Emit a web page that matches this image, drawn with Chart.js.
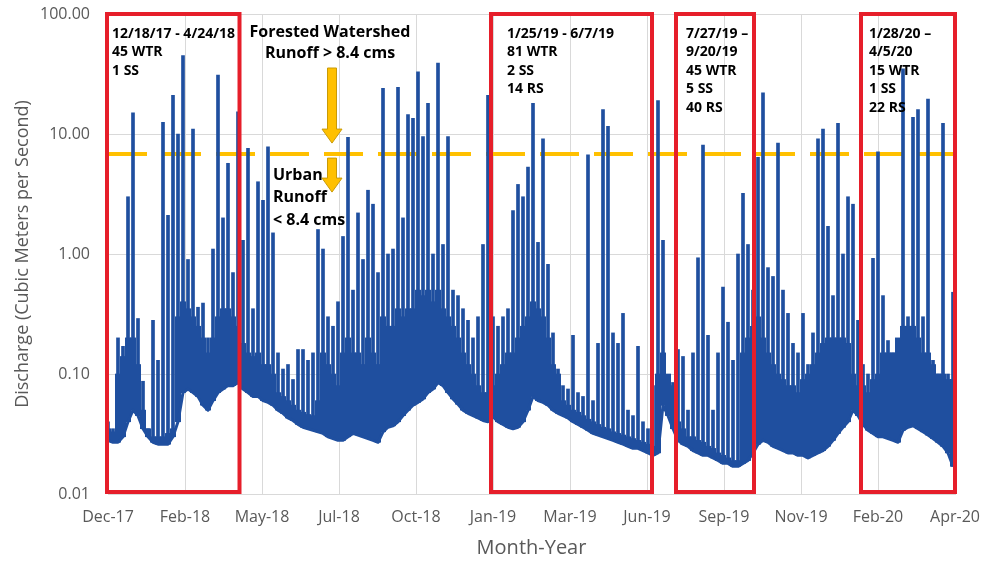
<!DOCTYPE html>
<html>
<head>
<meta charset="utf-8">
<title>Discharge</title>
<script src="https://cdn.jsdelivr.net/npm/chart.js@4.4.1/dist/chart.umd.min.js"></script>
<style>
  html, body { margin: 0; padding: 0; background: #fff; }
  #wrap { width: 990px; height: 561px; }
</style>
</head>
<body>
<div id="wrap"><canvas id="myChart"></canvas></div>
<script>
// month labels of the (evenly spaced) text axis
const monthTicks = ["Dec-17", "Feb-18", "May-18", "Jul-18", "Oct-18", "Jan-19", "Mar-19", "Jun-19", "Sep-19", "Nov-19", "Feb-20", "Apr-20"];
const samplesPerTick = 15.4;
const yTicks = [0.01, 0.1, 1, 10, 100];
const thresholdCms = 6.8;

// baseflow under each reading (cms)
const lowFlow = [
  0.028, 0.027, 0.027, 0.03, 0.04, 0.05, 0.045, 0.035, 0.03, 0.027,
  0.026, 0.026, 0.026, 0.03, 0.04, 0.07, 0.075, 0.07, 0.065, 0.055,
  0.05, 0.06, 0.07, 0.075, 0.08, 0.08, 0.085, 0.075, 0.07, 0.065,
  0.065, 0.06, 0.058, 0.055, 0.05, 0.047, 0.043, 0.041, 0.038, 0.036,
  0.035, 0.034, 0.033, 0.032, 0.03, 0.029, 0.028, 0.028, 0.03, 0.032,
  0.031, 0.03, 0.029, 0.028, 0.027, 0.033, 0.036, 0.037, 0.04, 0.045,
  0.05, 0.055, 0.058, 0.062, 0.07, 0.075, 0.085, 0.08, 0.07, 0.062,
  0.056, 0.05, 0.047, 0.045, 0.043, 0.041, 0.04, 0.044, 0.04, 0.038,
  0.036, 0.035, 0.036, 0.04, 0.05, 0.065, 0.06, 0.058, 0.055, 0.05,
  0.047, 0.045, 0.043, 0.04, 0.038, 0.036, 0.034, 0.032, 0.031, 0.03,
  0.029, 0.028, 0.027, 0.026, 0.025, 0.024, 0.024, 0.023, 0.022, 0.021,
  0.022, 0.055, 0.045, 0.035, 0.028, 0.026, 0.025, 0.023, 0.022, 0.021,
  0.021, 0.02, 0.019, 0.018, 0.018, 0.017, 0.017, 0.018, 0.019, 0.022,
  0.026, 0.028, 0.027, 0.025, 0.024, 0.023, 0.022, 0.022, 0.021, 0.021,
  0.02, 0.021, 0.022, 0.023, 0.025, 0.028, 0.032, 0.036, 0.04, 0.05,
  0.045, 0.038, 0.034, 0.032, 0.03, 0.03, 0.029, 0.028, 0.027, 0.034,
  0.036, 0.037, 0.035, 0.033, 0.031, 0.029, 0.027, 0.025, 0.022, 0.017
];

// top of the dense storm-flow band
const bandFlow = [
  0.035, 0.033, 0.1, 0.14, 0.2, 0.2, 0.12, 0.05, 0.035, 0.03,
  0.03, 0.03, 0.032, 0.035, 0.3, 0.4, 0.35, 0.3, 0.25, 0.2,
  0.15, 0.2, 0.3, 0.35, 0.35, 0.3, 0.25, 0.18, 0.15, 0.14,
  0.15, 0.12, 0.12, 0.1, 0.07, 0.065, 0.06, 0.055, 0.05, 0.048,
  0.046, 0.045, 0.06, 0.15, 0.12, 0.1, 0.08, 0.15, 0.2, 0.15,
  0.15, 0.12, 0.2, 0.15, 0.12, 0.3, 0.25, 0.25, 0.35, 0.3,
  0.35, 0.35, 0.5, 0.45, 0.5, 0.4, 0.5, 0.35, 0.3, 0.25,
  0.2, 0.15, 0.12, 0.1, 0.08, 0.07, 0.07, 0.08, 0.1, 0.12,
  0.15, 0.15, 0.2, 0.25, 0.3, 0.4, 0.35, 0.3, 0.2, 0.12,
  0.1, 0.06, 0.055, 0.05, 0.048, 0.045, 0.042, 0.04, 0.038, 0.036,
  0.035, 0.033, 0.032, 0.031, 0.03, 0.029, 0.028, 0.027, 0.026, 0.025,
  0.1, 0.15, 0.1, 0.08, 0.04, 0.035, 0.03, 0.03, 0.028, 0.027,
  0.025, 0.024, 0.022, 0.021, 0.02, 0.019, 0.019, 0.15, 0.2, 0.25,
  0.3, 0.2, 0.15, 0.12, 0.1, 0.09, 0.08, 0.08, 0.07, 0.09,
  0.1, 0.12, 0.15, 0.18, 0.2, 0.2, 0.2, 0.2, 0.18, 0.1,
  0.08, 0.08, 0.07, 0.09, 0.1, 0.15, 0.15, 0.15, 0.2, 0.25,
  0.25, 0.25, 0.2, 0.15, 0.15, 0.12, 0.1, 0.1, 0.09, 0.09
];

// storm peaks
const peakFlow = [
  0.04, 0.035, 0.2, 0.17, 3.0, 15, 0.29, 0.087, 0.035, 0.28,
  0.13, 12.5, 2.1, 21, 10, 45, 0.9, 11, 0.36, 0.39,
  0.2, 1.1, 31, 2.0, 5.7, 0.7, 15.3, 1.3, 7.6, 0.35,
  4.0, 2.8, 7.8, 1.5, 0.15, 0.11, 0.12, 0.09, 0.16, 0.16,
  0.13, 0.15, 1.6, 1.1, 0.3, 0.25, 0.4, 1.4, 9.4, 0.5,
  2.2, 0.9, 3.4, 2.6, 0.7, 24, 1.0, 1.1, 24.5, 2.0,
  14.5, 13.5, 33, 9.5, 18, 1.0, 39, 1.2, 9.5, 0.5,
  0.45, 0.35, 0.28, 0.2, 0.3, 1.2, 21, 0.3, 0.25, 0.3,
  0.35, 2.3, 3.8, 3.0, 5.3, 18, 1.25, 9.1, 0.82, 0.22,
  0.11, 0.08, 0.075, 0.21, 0.07, 0.065, 6.7, 0.06, 0.18, 16,
  11.6, 0.22, 0.18, 0.32, 0.05, 0.045, 0.17, 0.04, 0.035, 0.08,
  19, 1.3, 0.09, 0.085, 0.16, 0.14, 0.05, 0.15, 0.93, 8.1,
  0.21, 0.05, 0.15, 0.53, 0.27, 0.13, 1.0, 3.2, 1.2, 0.5,
  6.4, 22, 0.77, 0.65, 8.4, 0.5, 0.32, 0.18, 0.15, 0.32,
  0.12, 0.22, 9.1, 11, 1.7, 0.45, 12.3, 1.0, 3.0, 2.6,
  0.28, 0.12, 0.1, 0.92, 7.1, 0.45, 0.19, 0.15, 0.13, 35,
  0.3, 13.8, 16, 0.3, 19.5, 0.13, 0.1, 12.3, 0.1, 0.48
];

// sampling periods (in reading units along the axis)
const periods = [
  { from: -0.2, to: 26.3, textAt: 0.8, lines: ["12/18/17 - 4/24/18", "45 WTR", "1 SS"] },
  { from: 76.6, to: 108.8, textAt: 79.8, lines: ["1/25/19 - 6/7/19", "81 WTR", "2 SS", "14 RS"] },
  { from: 113.6, to: 129.2, textAt: 115.6, lines: ["7/27/19 \u2013", "9/20/19", "45 WTR", "5 SS", "40 RS"] },
  { from: 150.6, to: 169.4, textAt: 152.2, lines: ["1/28/20 \u2013", "4/5/20", "15 WTR", "1 SS", "22 RS"] }
];
const forestAt = 44.4;
const urbanAt = 33;

const blue = "#1f4f9f";
const gray = "#595959";
Chart.defaults.font.family = '"Open Sans", sans-serif';

function drawArrow(ctx, cx, y0, y1) {
  const shaft = 4.5, head = 10, headLen = 14;
  ctx.beginPath();
  ctx.moveTo(cx - shaft, y0);
  ctx.lineTo(cx + shaft, y0);
  ctx.lineTo(cx + shaft, y1 - headLen);
  ctx.lineTo(cx + head, y1 - headLen);
  ctx.lineTo(cx, y1);
  ctx.lineTo(cx - head, y1 - headLen);
  ctx.lineTo(cx - shaft, y1 - headLen);
  ctx.closePath();
  ctx.fillStyle = "#FFC000";
  ctx.fill();
  ctx.strokeStyle = "#C99A06";
  ctx.lineWidth = 1;
  ctx.stroke();
}

const notes = {
  id: "notes",
  beforeDatasetsDraw(chart) {
    const { ctx, chartArea: a, scales: { y } } = chart;
    const ty = y.getPixelForValue(thresholdCms);
    ctx.save();
    ctx.strokeStyle = "#FFC000";
    ctx.lineWidth = 4;
    ctx.setLineDash([39, 15]);
    ctx.beginPath();
    ctx.moveTo(a.left, ty);
    ctx.lineTo(a.right, ty);
    ctx.stroke();
    ctx.restore();
  },
  afterDatasetsDraw(chart) {
    const { ctx, chartArea: a, scales: { x, y } } = chart;
    const ty = y.getPixelForValue(thresholdCms);
    ctx.save();
    // red period boxes
    ctx.strokeStyle = "#E61E2A";
    ctx.lineWidth = 4;
    ctx.fillStyle = "#000";
    ctx.textBaseline = "middle";
    ctx.textAlign = "left";
    ctx.font = 'bold 14px "Open Sans"';
    periods.forEach(p => {
      const x0 = x.getPixelForValue(p.from);
      const x1 = x.getPixelForValue(p.to);
      ctx.strokeRect(x0, a.top, x1 - x0, a.bottom - 2 - a.top);
      const tx = x.getPixelForValue(p.textAt);
      p.lines.forEach((t, k) => ctx.fillText(t, tx, a.top + 20 + k * 18.5));
    });
    // forested / urban labels
    const fx = x.getPixelForValue(forestAt);
    ctx.font = 'bold 16px "Open Sans"';
    ctx.textAlign = "center";
    ctx.fillText("Forested Watershed", fx, a.top + 18);
    ctx.fillText("Runoff > 8.4 cms", fx, a.top + 39);
    ctx.textAlign = "left";
    const ux = x.getPixelForValue(urbanAt);
    ctx.fillText("Urban", ux, ty + 21);
    ctx.fillText("Runoff", ux, ty + 43);
    ctx.fillText("< 8.4 cms", ux, ty + 66);
    drawArrow(ctx, fx + 2, a.top + 54, ty - 11);
    drawArrow(ctx, fx + 2, ty + 4, ty + 38);
    ctx.restore();
  }
};

const config = {
  type: "bar",
  data: {
    datasets: [
      {
        type: "line",
        data: lowFlow.map((q, i) => ({ x: i, y: q })),
        borderColor: blue,
        borderWidth: 3,
        pointRadius: 0,
        borderJoinStyle: "round"
      },
      {
        data: lowFlow.map((q, i) => ({ x: i, y: [q, bandFlow[i]] })),
        backgroundColor: blue,
        barThickness: 5.3,
        grouped: false
      },
      {
        data: lowFlow.map((q, i) => ({ x: i, y: [q, peakFlow[i]] })),
        backgroundColor: blue,
        barThickness: 3,
        grouped: false
      }
    ]
  },
  options: {
    responsive: true,
    maintainAspectRatio: false,
    animation: false,
    layout: { padding: { top: 14, right: 35, left: 0, bottom: 0 } },
    plugins: { legend: { display: false }, tooltip: { enabled: false } },
    scales: {
      x: {
        type: "linear",
        min: 0,
        max: 169.4,
        offset: false,
        grid: { color: "#d9d9d9", drawTicks: false, offset: false },
        border: { color: "#d9d9d9" },
        afterBuildTicks: s => { s.ticks = monthTicks.map((m, k) => ({ value: k * samplesPerTick })); },
        afterFit: s => { s.height = 67; s.paddingLeft = 0; s.paddingRight = 0; },
        ticks: {
          autoSkip: false,
          maxRotation: 0,
          padding: 14,
          color: gray,
          font: { size: 16 },
          callback: (v, i) => monthTicks[i]
        },
        title: { display: true, text: "Month-Year", color: gray, font: { size: 20 }, padding: { bottom: 1 } }
      },
      y: {
        type: "logarithmic",
        min: 0.01,
        max: 100,
        grid: { color: "#d9d9d9", drawTicks: false },
        border: { display: false },
        afterBuildTicks: s => { s.ticks = yTicks.map(v => ({ value: v })); },
        afterFit: s => { s.width = 108; s.paddingTop = 0; s.paddingBottom = 0; },
        ticks: {
          padding: 18,
          color: gray,
          font: { size: 16 },
          callback: v => Number(v).toFixed(2)
        },
        title: { display: true, text: "Discharge (Cubic Meters per Second)", color: gray, font: { size: 18 }, padding: { top: 12 } }
      }
    }
  },
  plugins: [notes]
};

new Chart(document.getElementById("myChart"), config);
</script>
</body>
</html>
